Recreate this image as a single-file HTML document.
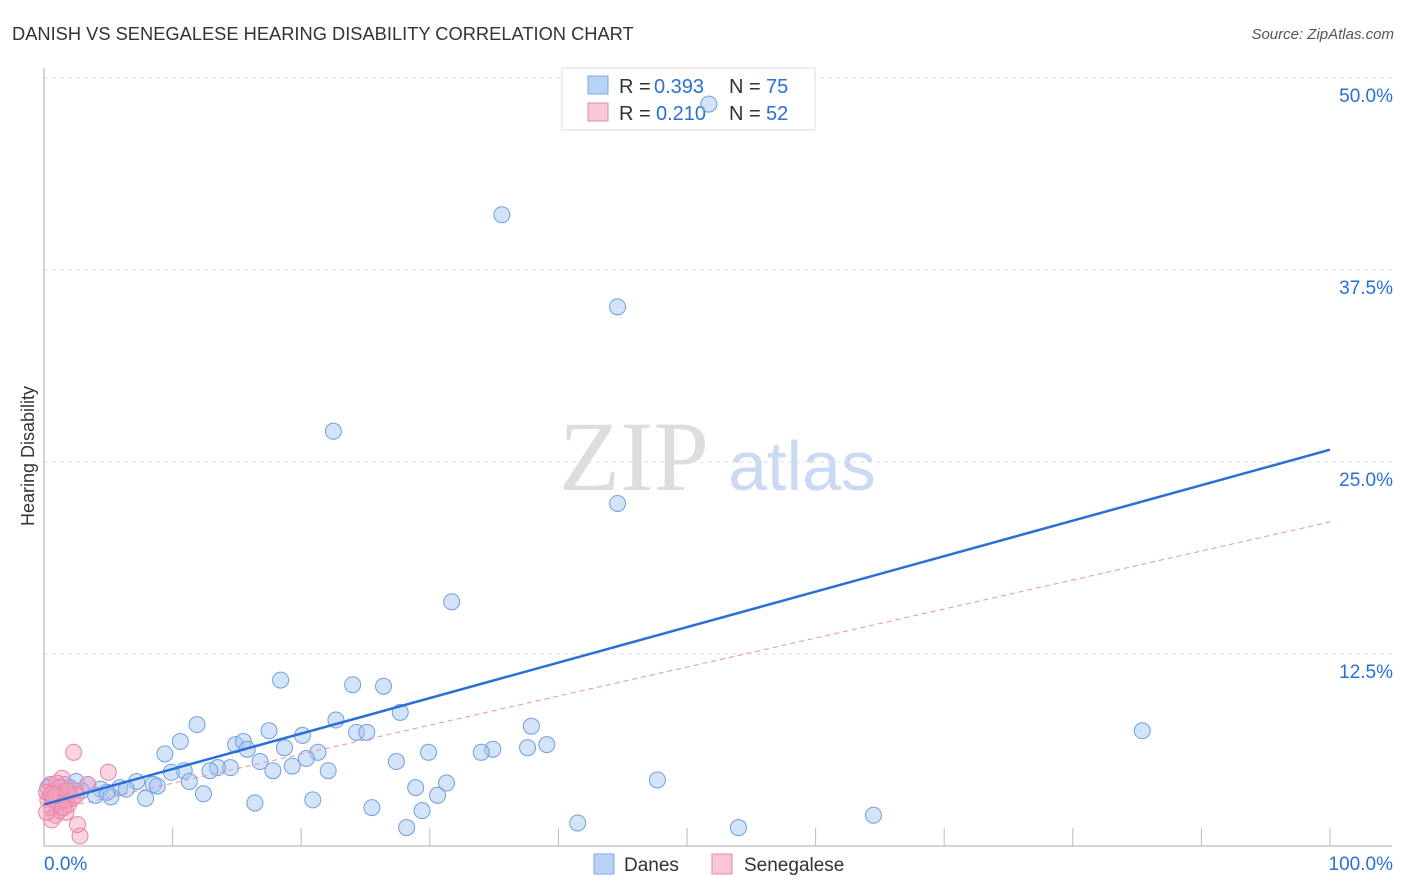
<!DOCTYPE html>
<html><head><meta charset="utf-8"><style>
body{margin:0;background:#fff;font-family:"Liberation Sans",sans-serif;}
svg{display:block}
</style></head><body>
<svg id="chart" width="1406" height="892">
<text x="12" y="40" font-size="18.3" fill="#333">DANISH VS SENEGALESE HEARING DISABILITY CORRELATION CHART</text>
<text x="1394" y="39" font-size="15" fill="#555" font-style="italic" text-anchor="end">Source: ZipAtlas.com</text>
<text x="634" y="490" font-size="100" fill="#ddd" font-family="Liberation Serif,serif" text-anchor="middle">ZIP</text>
<text x="802" y="490" font-size="70" fill="#c9daf2" text-anchor="middle">atlas</text>
<text transform="translate(34,456) rotate(-90)" font-size="18" fill="#333" text-anchor="middle">Hearing Disability</text>
<g id="grid"></g>
<g>
<rect x="562" y="68" width="253" height="62" fill="#fff" stroke="#ddd"/>
<rect x="588" y="76" width="20" height="18" fill="#b8d3f5" stroke="#7aa8e0"/>
<rect x="588" y="103" width="20" height="18" fill="#f9c6d5" stroke="#e88aa8"/>
<text x="619" y="93" font-size="20" fill="#333">R =</text><text x="654" y="93" font-size="20" fill="#2a6fd6">0.393</text>
<text x="729" y="93" font-size="20" fill="#333">N =</text><text x="766" y="93" font-size="20" fill="#2a6fd6">75</text>
<text x="619" y="120" font-size="20" fill="#333">R =</text><text x="656" y="120" font-size="20" fill="#2a6fd6">0.210</text>
<text x="729" y="120" font-size="20" fill="#333">N =</text><text x="766" y="120" font-size="20" fill="#2a6fd6">52</text>
</g>
<g id="marks"></g>
<g>
<rect x="594" y="854" width="20" height="20" fill="#b8d3f5" stroke="#7aa8e0"/>
<text x="624" y="871" font-size="19" fill="#333">Danes</text>
<rect x="712" y="854" width="20" height="20" fill="#f9c6d5" stroke="#e88aa8"/>
<text x="744" y="871" font-size="19" fill="#333">Senegalese</text>
</g>
</svg>
<script>
const yTicks=[12.5,25,37.5,50];
const yTickLabels=["12.5%","25.0%","37.5%","50.0%"];
const xTickLabels=["0.0%","100.0%"];
const danesX=[51.7,35.6,44.6,22.5,44.6,31.7,18.4,24.0,26.4,27.7,22.7,11.9,37.9,17.5,85.4,24.3,25.1,20.1,10.6,14.9,15.5,39.1,18.7,37.6,34.9,34.0,21.3,29.9,9.4,15.8,20.4,16.8,27.4,19.3,14.5,13.5,12.9,10.9,17.8,22.1,9.9,47.7,11.3,31.3,7.2,8.5,8.8,5.9,6.4,4.4,2.5,1.6,0.6,3.4,28.9,4.0,5.2,4.9,12.4,30.6,7.9,20.9,16.4,25.5,29.4,64.5,41.5,28.2,54.0,2.0,1.1,2.9,0.3,1.2];
const danesY=[48.3,41.1,35.1,27.0,22.3,15.9,10.8,10.5,10.4,8.7,8.2,7.9,7.8,7.5,7.5,7.4,7.4,7.2,6.8,6.6,6.8,6.6,6.4,6.4,6.3,6.1,6.1,6.1,6.0,6.3,5.7,5.5,5.5,5.2,5.1,5.1,4.9,4.9,4.9,4.9,4.8,4.3,4.2,4.1,4.2,4.0,3.9,3.8,3.7,3.7,4.2,4.0,4.0,4.0,3.8,3.3,3.2,3.5,3.4,3.3,3.1,3.0,2.8,2.5,2.3,2.0,1.5,1.2,1.2,3.8,3.6,3.6,3.8,3.3];
const senX=[2.3,5.0,1.4,3.4,2.8,2.6,1.7,0.9,0.6,0.3,0.5,0.8,0.9,1.1,1.2,1.4,1.6,1.7,1.9,2.0,2.2,2.4,2.5,0.6,0.5,1.0,0.2,0.7,1.2,1.5,0.2,0.9,1.8,0.6];
const senY=[6.1,4.8,4.4,4.0,0.65,1.4,2.2,2.0,1.7,3.0,3.3,3.6,2.7,3.1,2.3,2.9,3.3,3.0,2.7,3.3,3.1,3.6,3.3,2.5,4.0,4.1,3.5,3.0,3.8,2.5,2.2,3.3,3.6,3.4];
const danesTrend=[2.7,25.8];
const senTrend=[2.2,21.1];
const NS="http://www.w3.org/2000/svg";
const xs=v=>44+v*12.86, ys=v=>846-v*15.36;
function mk(t,a,p){const e=document.createElementNS(NS,t);for(const k in a)e.setAttribute(k,a[k]);p.appendChild(e);return e;}
const g=document.getElementById('grid'), m=document.getElementById('marks');
yTicks.forEach((t,i)=>{
 const l=mk('line',{x1:44,x2:1392,y1:ys(t),y2:ys(t),stroke:'#ddd','stroke-dasharray':'4,4'},g);
 
 
 const tx=mk('text',{x:1393,y:ys(t)+24,'font-size':19,fill:'#2a6fd6','text-anchor':'end'},g);tx.textContent=yTickLabels[i];
 
 
});
mk('line',{x1:44,x2:44,y1:68,y2:846,stroke:'#aaa'},g);
mk('line',{x1:44,x2:1392,y1:846,y2:846,stroke:'#aaa'},g);
for(let i=1;i<=10;i++){const t=mk('line',{x1:xs(i*10),x2:xs(i*10),y1:828,y2:846,stroke:'#bbb'},g);
 
 }
[[0,'start',44],[100,'end',1393]].forEach((d,i)=>{const t=mk('text',{x:d[2],y:870,'font-size':19,fill:'#2a6fd6','text-anchor':d[1]},g);t.textContent=xTickLabels[i];
 
 });
danesX.forEach((x,i)=>{const c=mk('circle',{cx:xs(x),cy:ys(danesY[i]),r:8,fill:'rgba(160,195,240,0.45)',stroke:'#6f9fe0','stroke-width':1},m);
 
 });
senX.forEach((x,i)=>{const c=mk('circle',{cx:xs(x),cy:ys(senY[i]),r:8,fill:'rgba(245,160,190,0.45)',stroke:'#e884a6','stroke-width':1},m);
 
 });
const t1=mk('line',{x1:xs(0),y1:ys(danesTrend[0]),x2:xs(100),y2:ys(danesTrend[1]),stroke:'#2a6fd6','stroke-width':2.5},m);


const t2=mk('line',{x1:xs(0),y1:ys(senTrend[0]),x2:xs(100),y2:ys(senTrend[1]),stroke:'#e884a6','stroke-width':1,'stroke-dasharray':'5,4','stroke-opacity':0.9},m);


</script>
</body></html>
